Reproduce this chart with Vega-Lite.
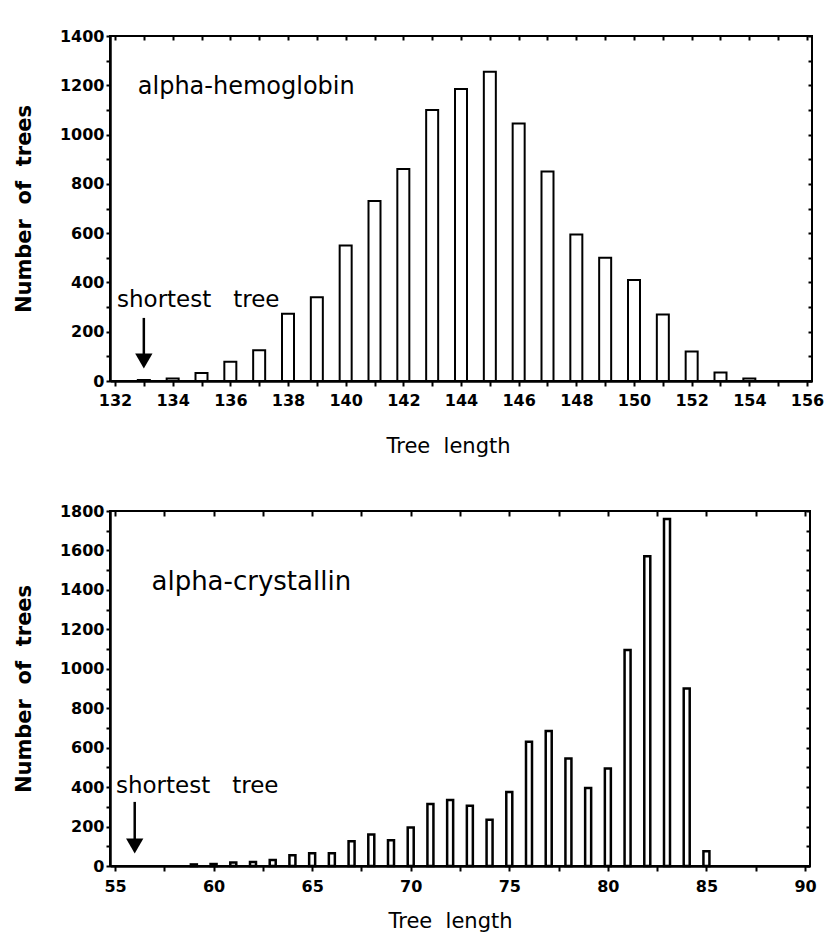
{
  "$schema": "https://vega.github.io/schema/vega-lite/v6.json",
  "background": "white",
  "padding": {"left": 12, "top": 27, "right": 10, "bottom": 5},
  "spacing": 45,
  "config": {
    "view": {"stroke": "black", "strokeWidth": 2},
    "font": "DejaVu Sans",
    "axis": {
      "domainColor": "black", "domainWidth": 2.5, "tickColor": "black", "tickWidth": 2,
      "labelColor": "black", "titleColor": "black", "grid": false,
      "labelFont": "DejaVu Sans", "labelFontSize": 16, "labelFontWeight": "bold",
      "labelOverlap": false, "labelBound": false, "labelFlush": false,
      "titleFont": "DejaVu Sans", "titleFontSize": 21
    }
  },
  "datasets": {
    "hemo": [
      {"len": 133, "n": 4}, {"len": 134, "n": 10}, {"len": 135, "n": 32}, {"len": 136, "n": 78},
      {"len": 137, "n": 125}, {"len": 138, "n": 273}, {"len": 139, "n": 340}, {"len": 140, "n": 550},
      {"len": 141, "n": 730}, {"len": 142, "n": 860}, {"len": 143, "n": 1100}, {"len": 144, "n": 1185},
      {"len": 145, "n": 1255}, {"len": 146, "n": 1045}, {"len": 147, "n": 850}, {"len": 148, "n": 595},
      {"len": 149, "n": 500}, {"len": 150, "n": 410}, {"len": 151, "n": 270}, {"len": 152, "n": 120},
      {"len": 153, "n": 35}, {"len": 154, "n": 10}
    ],
    "cryst": [
      {"len": 59, "n": 8}, {"len": 60, "n": 10}, {"len": 61, "n": 18}, {"len": 62, "n": 20},
      {"len": 63, "n": 30}, {"len": 64, "n": 55}, {"len": 65, "n": 65}, {"len": 66, "n": 65},
      {"len": 67, "n": 125}, {"len": 68, "n": 160}, {"len": 69, "n": 130}, {"len": 70, "n": 195},
      {"len": 71, "n": 315}, {"len": 72, "n": 335}, {"len": 73, "n": 305}, {"len": 74, "n": 235},
      {"len": 75, "n": 375}, {"len": 76, "n": 630}, {"len": 77, "n": 685}, {"len": 78, "n": 545},
      {"len": 79, "n": 395}, {"len": 80, "n": 495}, {"len": 81, "n": 1095}, {"len": 82, "n": 1570},
      {"len": 83, "n": 1760}, {"len": 84, "n": 900}, {"len": 85, "n": 75}
    ]
  },
  "vconcat": [
    {
      "width": 702, "height": 345,
      "resolve": {"axis": {"x": "independent", "y": "independent"}},
      "layer": [
        {
          "data": {"name": "hemo"},
          "mark": {"type": "bar", "width": 12, "fill": "white", "stroke": "black", "strokeWidth": 2},
          "encoding": {
            "x": {"field": "len", "type": "quantitative",
              "scale": {"domain": [132, 156], "nice": false},
              "axis": {"title": "Tree\u00a0 length", "titlePadding": 27, "titleFontWeight": "normal", "titleX": 338,
                "values": [132,133,134,135,136,137,138,139,140,141,142,143,144,145,146,147,148,149,150,151,152,153,154,155,156],
                "labelExpr": "datum.value % 2 == 0 ? datum.label : ''", "tickSize": 5, "labelPadding": 6}},
            "y": {"field": "n", "type": "quantitative",
              "scale": {"domain": [0, 1400], "nice": false},
              "axis": {"title": "Number\u00a0 of\u00a0 trees", "titlePadding": 25, "titleFontWeight": "bold",
                "values": [0,100,200,300,400,500,600,700,800,900,1000,1100,1200,1300,1400],
                "labelExpr": "datum.value % 200 == 0 ? datum.label : ''", "format": "d", "tickSize": 4, "labelPadding": 2}}
          }
        },
        {
          "data": {"name": "hemo"},
          "mark": {"type": "bar", "width": 12, "opacity": 0},
          "encoding": {
            "x": {"field": "len", "type": "quantitative",
              "axis": {"orient": "top", "title": null, "labels": false, "domain": false, "tickSize": -4,
                "values": [132,133,134,135,136,137,138,139,140,141,142,143,144,145,146,147,148,149,150,151,152,153,154,155,156]}},
            "y": {"field": "n", "type": "quantitative",
              "axis": {"orient": "right", "title": null, "labels": false, "domain": false, "tickSize": -4,
                "values": [0,100,200,300,400,500,600,700,800,900,1000,1100,1200,1300,1400]}}
          }
        },
        {
          "data": {"values": [{}]},
          "mark": {"type": "text", "align": "left", "baseline": "middle", "fontSize": 24, "font": "DejaVu Sans"},
          "encoding": {"x": {"datum": 132.79, "axis": null}, "y": {"datum": 1193, "axis": null}, "text": {"value": "alpha-hemoglobin"}}
        },
        {
          "data": {"values": [{}]},
          "mark": {"type": "text", "align": "left", "baseline": "middle", "fontSize": 23, "font": "DejaVu Sans"},
          "encoding": {"x": {"datum": 132.07, "axis": null}, "y": {"datum": 329, "axis": null}, "text": {"value": "shortest\u00a0\u00a0 tree"}}
        },
        {
          "data": {"values": [{}]},
          "mark": {"type": "rule", "strokeWidth": 2.5, "color": "black"},
          "encoding": {"x": {"datum": 133, "axis": null}, "y": {"datum": 256, "axis": null}, "y2": {"datum": 100}}
        },
        {
          "data": {"values": [{}]},
          "mark": {"type": "point", "shape": "triangle-down", "filled": true, "color": "black", "size": 300, "opacity": 1},
          "encoding": {"x": {"datum": 133, "axis": null}, "y": {"datum": 81, "axis": null}}
        }
      ]
    },
    {
      "width": 700, "height": 355,
      "resolve": {"axis": {"x": "independent", "y": "independent"}},
      "layer": [
        {
          "data": {"name": "cryst"},
          "mark": {"type": "bar", "width": 6, "fill": "white", "stroke": "black", "strokeWidth": 2.5},
          "encoding": {
            "x": {"field": "len", "type": "quantitative",
              "scale": {"domain": [55, 90], "nice": false},
              "axis": {"title": "Tree\u00a0 length", "titlePadding": 16, "titleFontWeight": "normal", "titleX": 340,
                "values": [55,57.5,60,62.5,65,67.5,70,72.5,75,77.5,80,82.5,85,87.5,90],
                "labelExpr": "datum.value % 5 == 0 ? datum.label : ''", "tickSize": 5, "labelPadding": 7}},
            "y": {"field": "n", "type": "quantitative",
              "scale": {"domain": [0, 1800], "nice": false},
              "axis": {"title": "Number\u00a0 of\u00a0 trees", "titlePadding": 25, "titleFontWeight": "bold",
                "values": [0,100,200,300,400,500,600,700,800,900,1000,1100,1200,1300,1400,1500,1600,1700,1800],
                "labelExpr": "datum.value % 200 == 0 ? datum.label : ''", "format": "d", "tickSize": 4, "labelPadding": 2}}
          }
        },
        {
          "data": {"name": "cryst"},
          "mark": {"type": "bar", "width": 6, "opacity": 0},
          "encoding": {
            "x": {"field": "len", "type": "quantitative",
              "axis": {"orient": "top", "title": null, "labels": false, "domain": false, "tickSize": -5,
                "values": [55,57.5,60,62.5,65,67.5,70,72.5,75,77.5,80,82.5,85,87.5,90]}},
            "y": {"field": "n", "type": "quantitative",
              "axis": {"orient": "right", "title": null, "labels": false, "domain": false, "tickSize": -4,
                "values": [0,100,200,300,400,500,600,700,800,900,1000,1100,1200,1300,1400,1500,1600,1700,1800]}}
          }
        },
        {
          "data": {"values": [{}]},
          "mark": {"type": "text", "align": "left", "baseline": "middle", "fontSize": 26, "font": "DejaVu Sans"},
          "encoding": {"x": {"datum": 56.85, "axis": null}, "y": {"datum": 1440, "axis": null}, "text": {"value": "alpha-crystallin"}}
        },
        {
          "data": {"values": [{}]},
          "mark": {"type": "text", "align": "left", "baseline": "middle", "fontSize": 23, "font": "DejaVu Sans"},
          "encoding": {"x": {"datum": 55.05, "axis": null}, "y": {"datum": 406, "axis": null}, "text": {"value": "shortest\u00a0\u00a0 tree"}}
        },
        {
          "data": {"values": [{}]},
          "mark": {"type": "rule", "strokeWidth": 2.5, "color": "black"},
          "encoding": {"x": {"datum": 56, "axis": null}, "y": {"datum": 325, "axis": null}, "y2": {"datum": 130}}
        },
        {
          "data": {"values": [{}]},
          "mark": {"type": "point", "shape": "triangle-down", "filled": true, "color": "black", "size": 300, "opacity": 1},
          "encoding": {"x": {"datum": 56, "axis": null}, "y": {"datum": 101, "axis": null}}
        }
      ]
    }
  ]
}
